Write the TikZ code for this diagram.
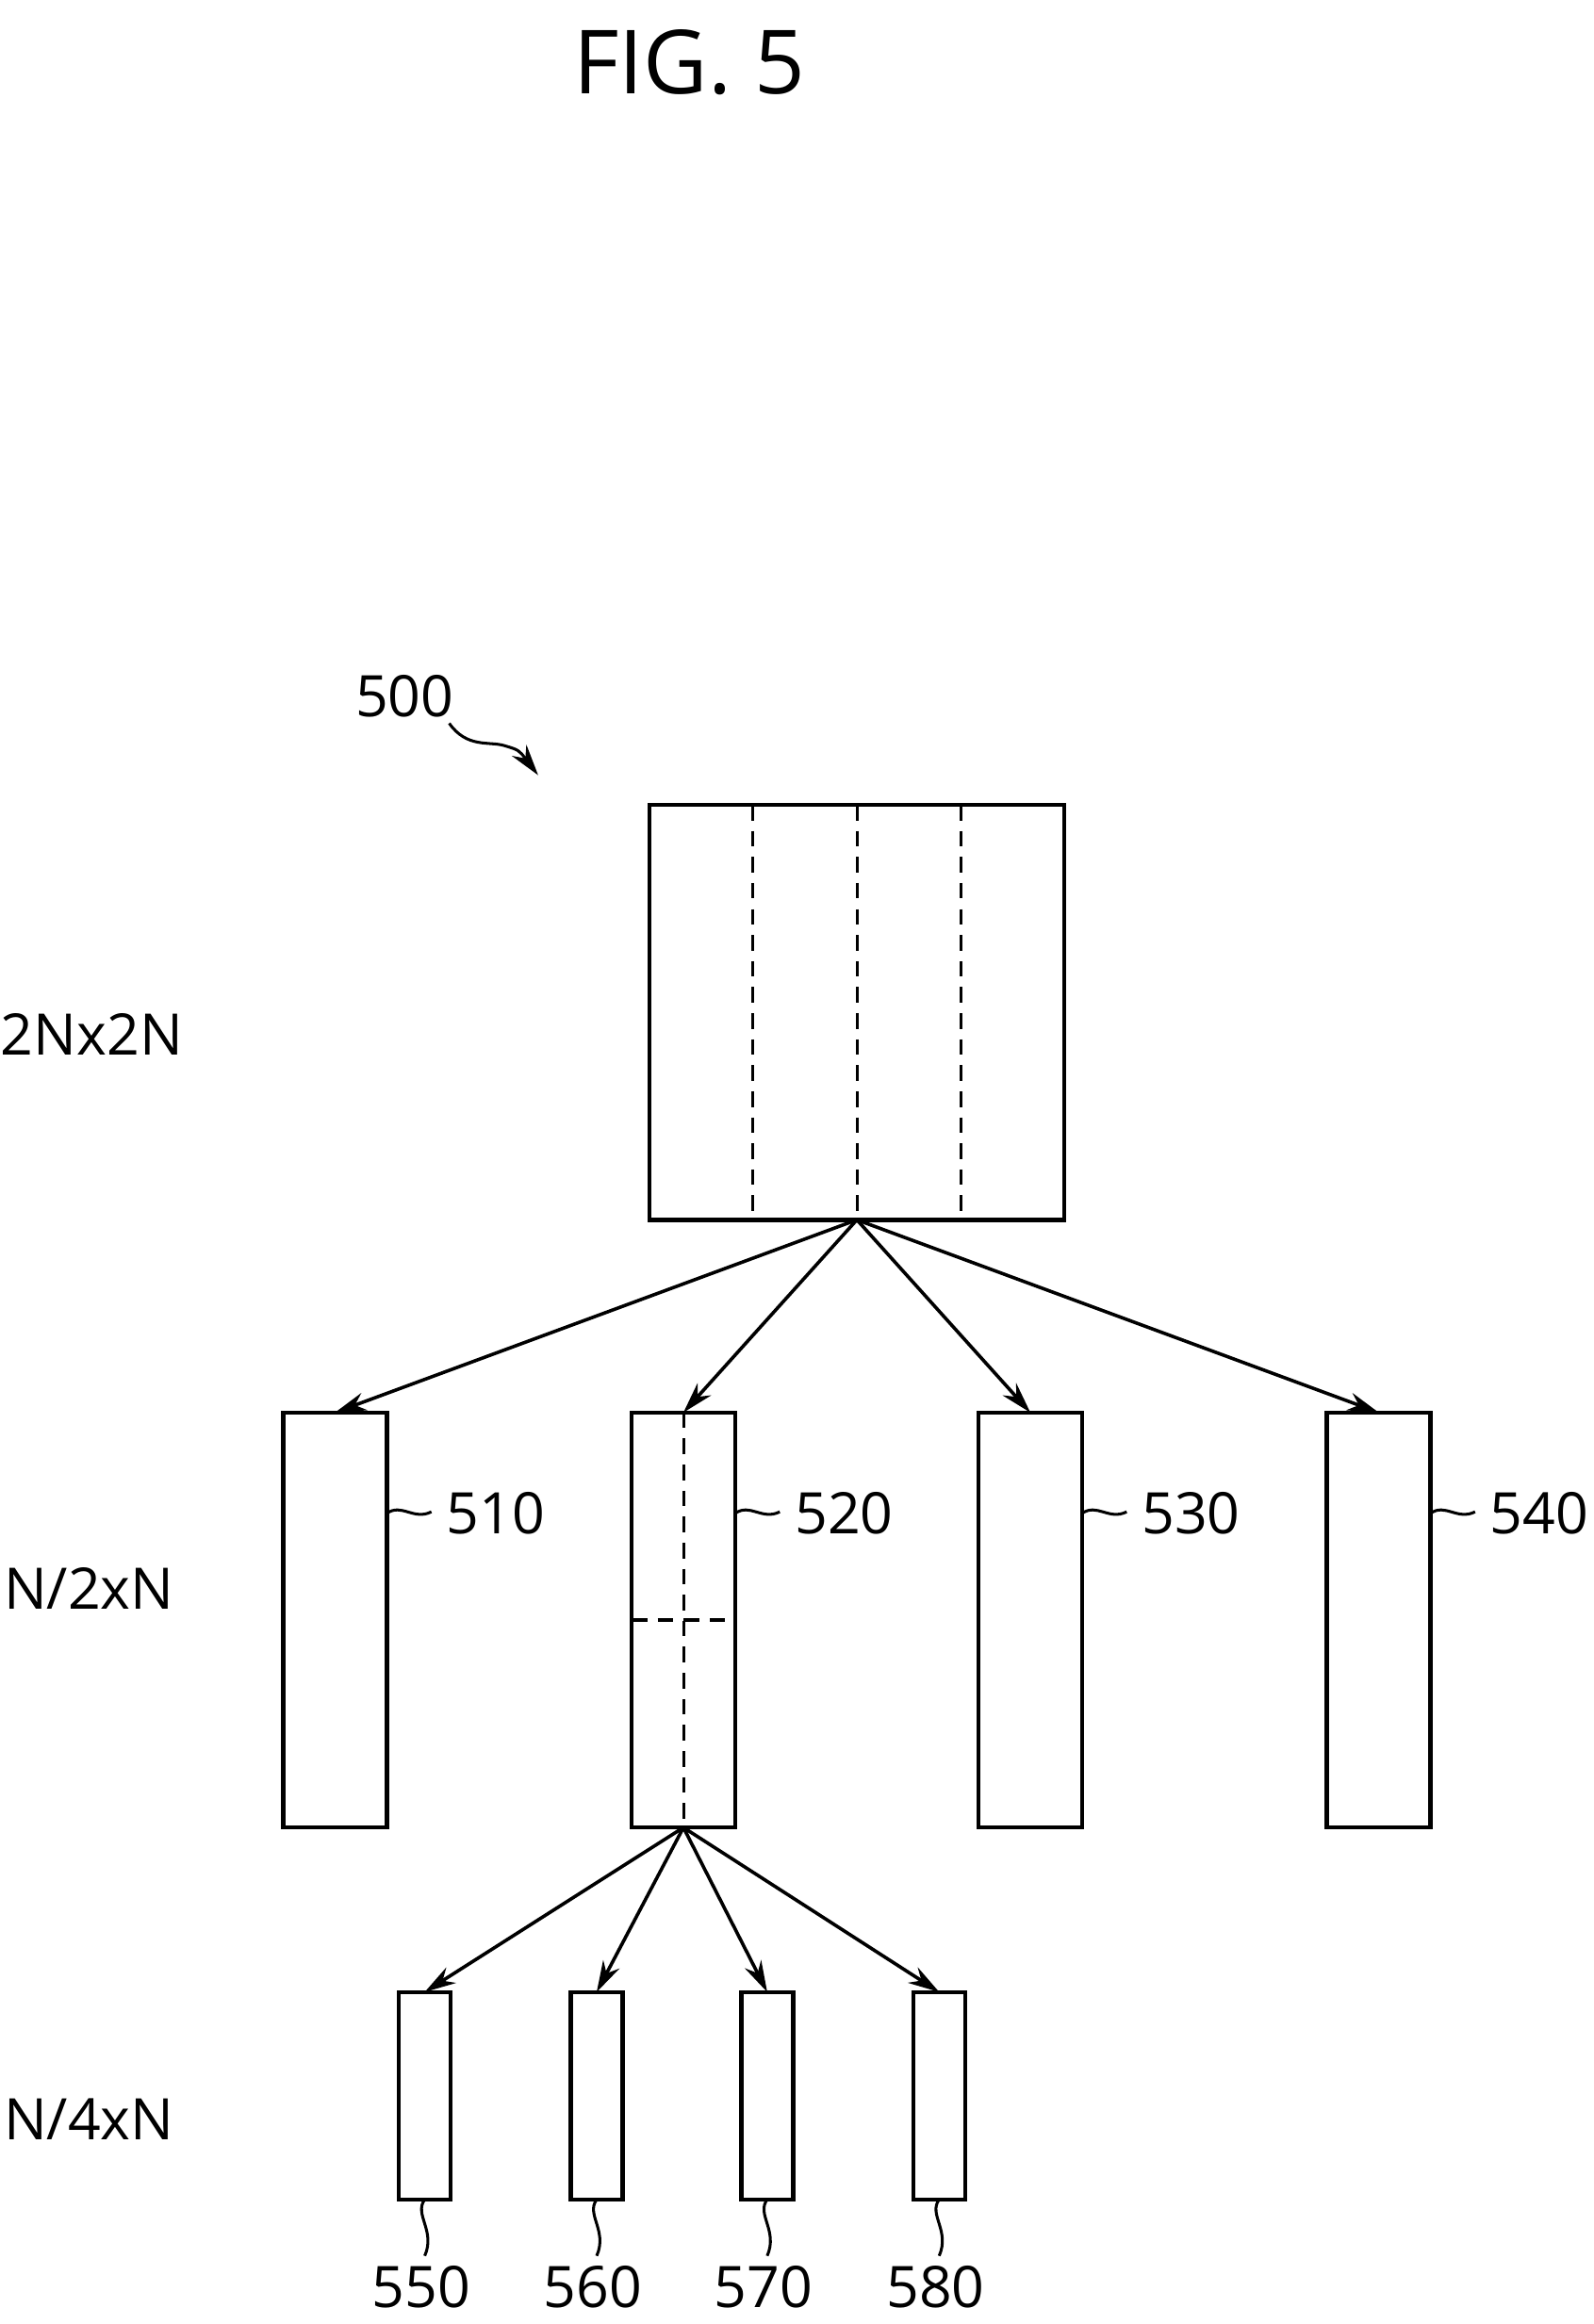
\documentclass[tikz,border=0pt]{standalone}
\usepackage{fontspec}
\setmainfont{Open Sans}
\usetikzlibrary{arrows.meta}

\tikzset{
  blk/.style={draw, line width=1.6pt},
  cut/.style={dashed, line width=1.1pt, dash pattern=on 6pt off 4pt},
  link/.style={line width=1.3pt, -{Stealth[length=12pt,width=7pt]}},
  tag/.style={line width=1.1pt},
  lbl/.style={font=\fontsize{22}{26}\selectfont}
}

\begin{document}
\begin{tikzpicture}[x=0.02cm, y=-0.02cm]
  \useasboundingbox (0,0) rectangle (1075,1568);

  % title
  \node[font=\fontsize{34}{40}\selectfont] (title) at (465,42) {FIG. 5};

  % level labels
  \node[lbl] (lv1) at (62,698) {2Nx2N};
  \node[lbl] (lv2) at (60,1072) {N/2xN};
  \node[lbl] (lv3) at (60,1430) {N/4xN};

  % 2Nx2N block
  \draw[blk] (438,543) rectangle (718,823);
  \foreach \x in {508,578,648}
    \draw[cut] (\x,543) -- (\x,823);
  \coordinate (root) at (578,823);

  % reference 500
  \node[lbl] (n500) at (273,470) {500};
  \coordinate (p500) at (363,523);
  \draw[tag, -{Stealth[length=12pt,width=7pt]}] (303,488) .. controls (315,505) and (330,500) .. (340,503) .. controls (350,506) .. (p500);

  % N/2xN blocks
  \foreach \nm/\x in {510/191,520/426,530/660,540/895} {
    \draw[blk] (\x,953) rectangle ++(70,280);
    \coordinate (t\nm) at (\x+35,953);
    \draw[tag] (\x+70,1021) .. controls (\x+80,1014) and (\x+88,1026) .. (\x+100,1020);
    \node[lbl, anchor=west] (n\nm) at (\x+104,1021) {\nm};
    \draw[link] (root) -- (t\nm);
  }
  \draw[cut] (461,953) -- (461,1233);
  \draw[cut] (426,1093) -- (496,1093);
  \coordinate (mid) at (461,1233);

  % N/4xN blocks
  \foreach \nm/\x in {550/269,560/385,570/500,580/616} {
    \draw[blk] (\x,1344) rectangle ++(35,140);
    \coordinate (t\nm) at (\x+17.5,1344);
    \draw[tag] (\x+17.5,1484) .. controls (\x+10,1494) and (\x+25,1505) .. (\x+17.5,1522);
    \node[lbl] (n\nm) at (\x+15,1543) {\nm};
    \draw[link] (mid) -- (t\nm);
  }
\end{tikzpicture}
\end{document}
